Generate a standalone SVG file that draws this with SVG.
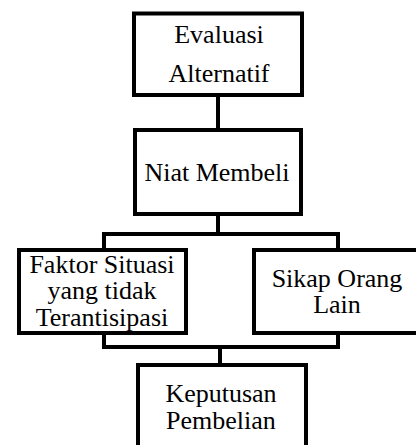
<svg xmlns="http://www.w3.org/2000/svg" width="416" height="445" viewBox="0 0 416 445">
<style>
.box{fill:#fff;stroke:#000;stroke-width:4}
.con{fill:none;stroke:#000;stroke-width:4}
.t{font-family:'Liberation Serif','Times New Roman',Tinos,'DejaVu Serif',serif;font-size:26px;fill:#000;text-anchor:middle}
</style>
<rect width="416" height="445" fill="#fff"/>
<g id="connectors">
<path class="con" d="M218 95V130"/>
<path class="con" d="M218 214V234M104 250V234H338V250"/>
<path class="con" d="M104 333V347H338V333M220 347V365"/>
</g>
<g id="evaluasi">
<rect class="box" x="134" y="13.5" width="168" height="81.5"/>
<text class="t" x="219" y="42.5" font-family="Liberation Serif, serif">Evaluasi</text>
<text class="t" x="219" y="81.5" font-family="Liberation Serif, serif">Alternatif</text>
</g>
<g id="niat">
<rect class="box" x="135" y="130" width="166" height="84"/>
<text class="t" x="217" y="181" font-family="Liberation Serif, serif">Niat Membeli</text>
</g>
<g id="faktor">
<rect class="box" x="19" y="250" width="167" height="83"/>
<text class="t" x="102" y="272.5" font-family="Liberation Serif, serif">Faktor Situasi</text>
<text class="t" x="102" y="299" font-family="Liberation Serif, serif">yang tidak</text>
<text class="t" x="102" y="325.5" font-family="Liberation Serif, serif">Terantisipasi</text>
</g>
<g id="sikap">
<rect class="box" x="254" y="250" width="168" height="83"/>
<text class="t" x="337" y="286.5" font-family="Liberation Serif, serif">Sikap Orang</text>
<text class="t" x="337" y="313" font-family="Liberation Serif, serif">Lain</text>
</g>
<g id="keputusan">
<rect class="box" x="138" y="365" width="168" height="90"/>
<text class="t" x="221" y="401.5" font-family="Liberation Serif, serif">Keputusan</text>
<text class="t" x="221" y="428.5" font-family="Liberation Serif, serif">Pembelian</text>
</g>
</svg>
